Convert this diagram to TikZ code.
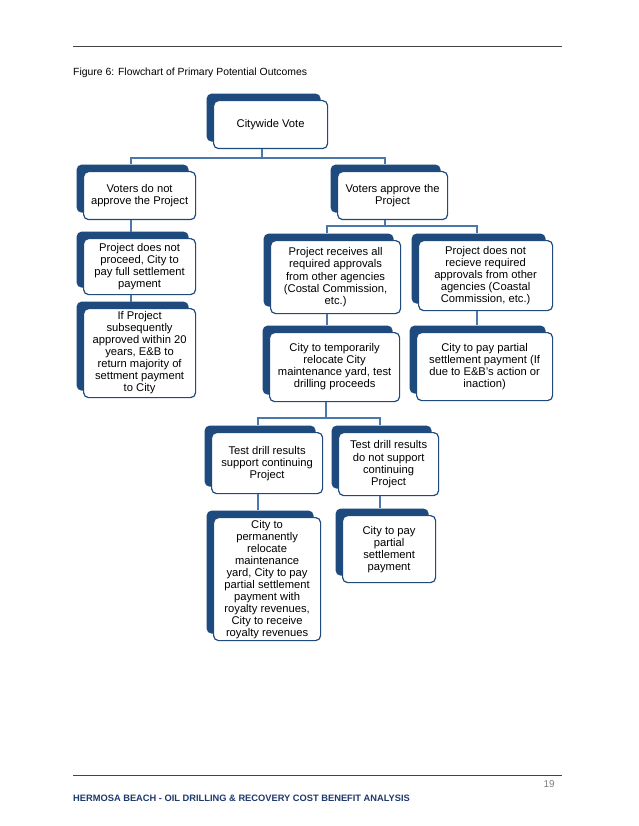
\documentclass[tikz,border=0pt]{standalone}
\usepackage{fontspec}
\setmainfont{Liberation Sans}
\usetikzlibrary{shadows,calc}
\definecolor{dkblue}{HTML}{1F4A7E}
\definecolor{lnblue}{HTML}{4A78AC}
\definecolor{footblue}{HTML}{1F3A6E}
\definecolor{rulegray}{HTML}{454545}
\tikzset{
  box/.style={anchor=north west, draw=dkblue, line width=1.2pt, fill=white,
    rounded corners=5pt, inner sep=1pt, align=center,
    font=\fontsize{11.2}{12}\selectfont,
    general shadow={fill=dkblue, shadow xshift=-7pt, shadow yshift=7pt}},
  conn/.style={draw=lnblue, line width=1.8pt},
  pagerule/.style={draw=rulegray, line width=1.2pt}
}
\begin{document}
\begin{tikzpicture}[x=1pt,y=-1pt]
\useasboundingbox[fill=white] (0,0) rectangle (638,826);
% page decorations
\coordinate (hl) at (73,46.5);
\coordinate (hr) at (562,46.5);
\draw[pagerule] (hl) -- (hr);
\node[anchor=base west, inner sep=0pt, font=\fontsize{10.4}{12}\selectfont] (cap) at (73,76) {Figure 6: Flowchart of Primary Potential Outcomes};
\coordinate (fl) at (73,775.5);
\coordinate (fr) at (562,775.5);
\draw[pagerule] (fl) -- (fr);
\node[anchor=base east, inner sep=0pt, text=gray, font=\fontsize{10}{12}\selectfont] (pg) at (555,787.5) {19};
\node[anchor=base west, inner sep=0pt, text=footblue, font=\fontsize{9.3}{11}\selectfont\bfseries] (foot) at (73,801.5) {HERMOSA BEACH - OIL DRILLING \& RECOVERY COST BENEFIT ANALYSIS};

% connector x positions
\coordinate (c1) at (262,148);
\coordinate (c2) at (131,219);
\coordinate (c3) at (131,294);
\coordinate (c5) at (385,219);
\coordinate (c6) at (327,313);
\coordinate (c7) at (477,310);
\coordinate (c8) at (326,401);
\coordinate (c10) at (258,493);
\coordinate (c11) at (380,495);

% boxes
\node[box, minimum width=114pt, minimum height=48pt] (b1) at (213,100) {Citywide Vote};
\node[box, minimum width=112pt, minimum height=48pt] (b2) at (83,171) {Voters do not\\approve the Project};
\node[box, minimum width=112pt, minimum height=56pt] (b3) at (83,238) {Project does not\\proceed, City to\\pay full settlement\\payment};
\node[box, minimum width=112pt, minimum height=89pt] (b4) at (83,308) {If Project\\subsequently\\approved within 20\\years, E\&B to\\return majority of\\settment payment\\to City};
\node[box, minimum width=110pt, minimum height=48pt] (b5) at (337,171) {Voters approve the\\Project};
\node[box, minimum width=130pt, minimum height=73pt] (b6) at (270,240) {Project receives all\\required approvals\\from other agencies\\(Costal Commission,\\etc.)};
\node[box, minimum width=134pt, minimum height=70pt] (b7) at (418,240) {Project does not\\recieve required\\approvals from other\\agencies (Coastal\\Commission, etc.)};
\node[box, minimum width=130pt, minimum height=69pt] (b8) at (269,332) {City to temporarily\\relocate City\\maintenance yard, test\\drilling proceeds};
\node[box, minimum width=136pt, minimum height=68pt] (b9) at (416,332) {City to pay partial\\settlement payment (If\\due to E\&B's action or\\inaction)};
\node[box, minimum width=111pt, minimum height=61pt] (b10) at (211,432) {Test drill results\\support continuing\\Project};
\node[box, minimum width=100pt, minimum height=63pt] (b11) at (338,432) {Test drill results\\do not support\\continuing\\Project};
\node[box, minimum width=107pt, minimum height=123pt] (b12) at (213,517) {City to\\permanently\\relocate\\maintenance\\yard, City to pay\\partial settlement\\payment with\\royalty revenues,\\City to receive\\royalty revenues};
\node[box, minimum width=93pt, minimum height=67pt] (b13) at (342,515) {City to pay\\partial\\settlement\\payment};

% connector lines
\draw[conn] (c1 |- b1.south) -- ++(0,9) -| ([yshift=7pt]b2.north -| c2);
\draw[conn] (c1 |- b1.south) -- ++(0,9) -| ([yshift=7pt]b5.north -| c5);
\draw[conn] (c2 |- b2.south) -- ([yshift=6pt]b3.north -| c2);
\draw[conn] (c3 |- b3.south) -- ([yshift=6pt]b4.north -| c3);
\draw[conn] (c5 |- b5.south) -- ++(0,6) -| ([yshift=7pt]b6.north -| c6);
\draw[conn] (c5 |- b5.south) -- ++(0,6) -| ([yshift=7pt]b7.north -| c7);
\draw[conn] (c6 |- b6.south) -- ([yshift=7pt]b8.north -| c6);
\draw[conn] (c7 |- b7.south) -- ([yshift=7pt]b9.north -| c7);
\draw[conn] (c8 |- b8.south) -- ++(0,16) -| ([yshift=7pt]b10.north -| c10);
\draw[conn] (c8 |- b8.south) -- ++(0,16) -| ([yshift=7pt]b11.north -| c11);
\draw[conn] (c10 |- b10.south) -- ([yshift=7pt]b12.north -| c10);
\draw[conn] (c11 |- b11.south) -- ([yshift=7pt]b13.north -| c11);
\end{tikzpicture}
\end{document}
